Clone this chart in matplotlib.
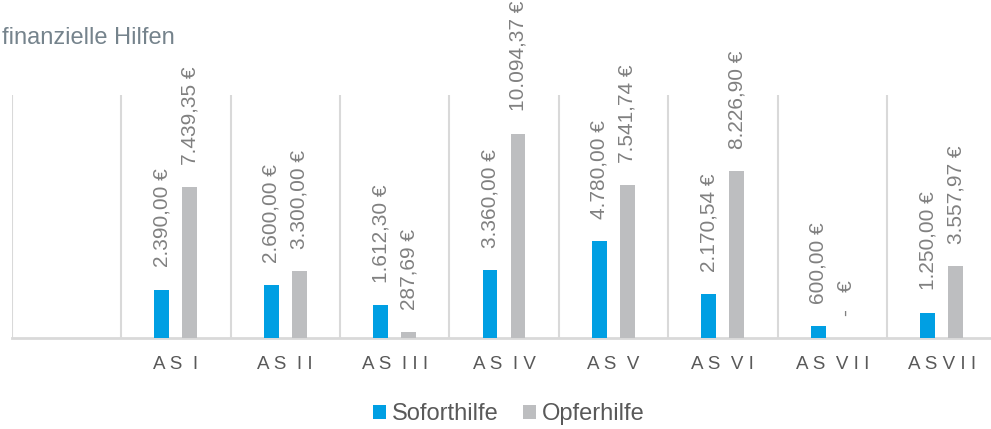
import numpy as np
import matplotlib
matplotlib.use("Agg")
matplotlib.rcParams.update({
    'font.family': 'sans-serif',
    'font.sans-serif': ['Liberation Sans', 'Arial', 'DejaVu Sans'],
})
import matplotlib.pyplot as plt
from matplotlib.patches import Patch

# ── Data ─────────────────────────────────────────────────────────────────────
categories  = ["", "A S  I", "A S  I I", "A S  I I I", "A S  I V", "A S  V",
               "A S  V I", "A S  V I I", "A S V I I"]
soforthilfe = [np.nan, 2390.00, 2600.00, 1612.30, 3360.00, 4780.00, 2170.54, 600.00, 1250.00]
opferhilfe  = [np.nan, 7439.35, 3300.00, 287.69, 10094.37, 7541.74, 8226.90, 0.00, 3557.97]

BLUE   = "#009FE3"
GREY   = "#BDBEC0"
GRID   = "#D9D9D9"
LABEL  = "#808080"
TICK   = "#595959"
TITLE  = "#75838C"


def euro(v):
    if v == 0:
        return "-   €"
    s = f"{v:,.2f}".replace(",", "X").replace(".", ",").replace("X", ".")
    return f"{s} €"


W, H = 991, 429
fig = plt.figure(figsize=(W / 100, H / 100), dpi=100)
fig.patch.set_facecolor("white")

# axes in pixel geometry: left gridline at 11.7, category width 109.4, baseline 338, top 95
left, cw = 11.7, 109.4
n = len(categories)
ax = fig.add_axes([left / W, 1 - 338 / H, n * cw / W, (338 - 95) / H])
ax.set_xlim(-0.5, n - 0.5)
ax.set_ylim(0, 12000)

x = np.arange(n)
off, bw = 0.128, 0.137
ax.bar(x - off, soforthilfe, width=bw, color=BLUE, zorder=3)
ax.bar(x + off, opferhilfe, width=bw, color=GREY, zorder=3)

for xi, v in zip(x, soforthilfe):
    if np.isnan(v):
        continue
    ax.annotate(euro(v), (xi - off, v), xytext=(0, 16), textcoords="offset points",
                rotation=90, ha="center", va="bottom", fontsize=15, color=LABEL)
for xi, v in zip(x, opferhilfe):
    if np.isnan(v):
        continue
    ax.annotate(euro(v), (xi + off, v), xytext=(0, 16), textcoords="offset points",
                rotation=90, ha="center", va="bottom", fontsize=15, color=LABEL)

# category separators
ax.set_xticks(np.arange(-0.5, n, 1.0), minor=True)
ax.grid(True, which="minor", axis="x", color=GRID, lw=1.5, zorder=0)
ax.set_xticks(x)
ax.set_xticklabels(categories, fontsize=13.5, color=TICK)
ax.tick_params(axis="x", which="both", length=0, pad=13)
ax.set_yticks([])
for s in ("top", "right", "left"):
    ax.spines[s].set_visible(False)
ax.spines["bottom"].set_color(GRID)
ax.spines["bottom"].set_linewidth(2)
ax.set_facecolor("none")

fig.text(2 / W, 1 - 38 / H, "finanzielle Hilfen", fontsize=17, color=TITLE,
         ha="left", va="center")

handles = [Patch(facecolor=BLUE, label="Soforthilfe"),
           Patch(facecolor=GREY, label="Opferhilfe")]
fig.legend(handles=handles, loc="center", bbox_to_anchor=(509 / W, 1 - 414 / H),
           ncol=2, frameon=False, fontsize=17, labelcolor=TICK,
           handlelength=0.55, handleheight=0.55, handletextpad=0.25,
           columnspacing=1.05, borderpad=0)

fig.savefig("out.png", dpi=100, facecolor="white")
